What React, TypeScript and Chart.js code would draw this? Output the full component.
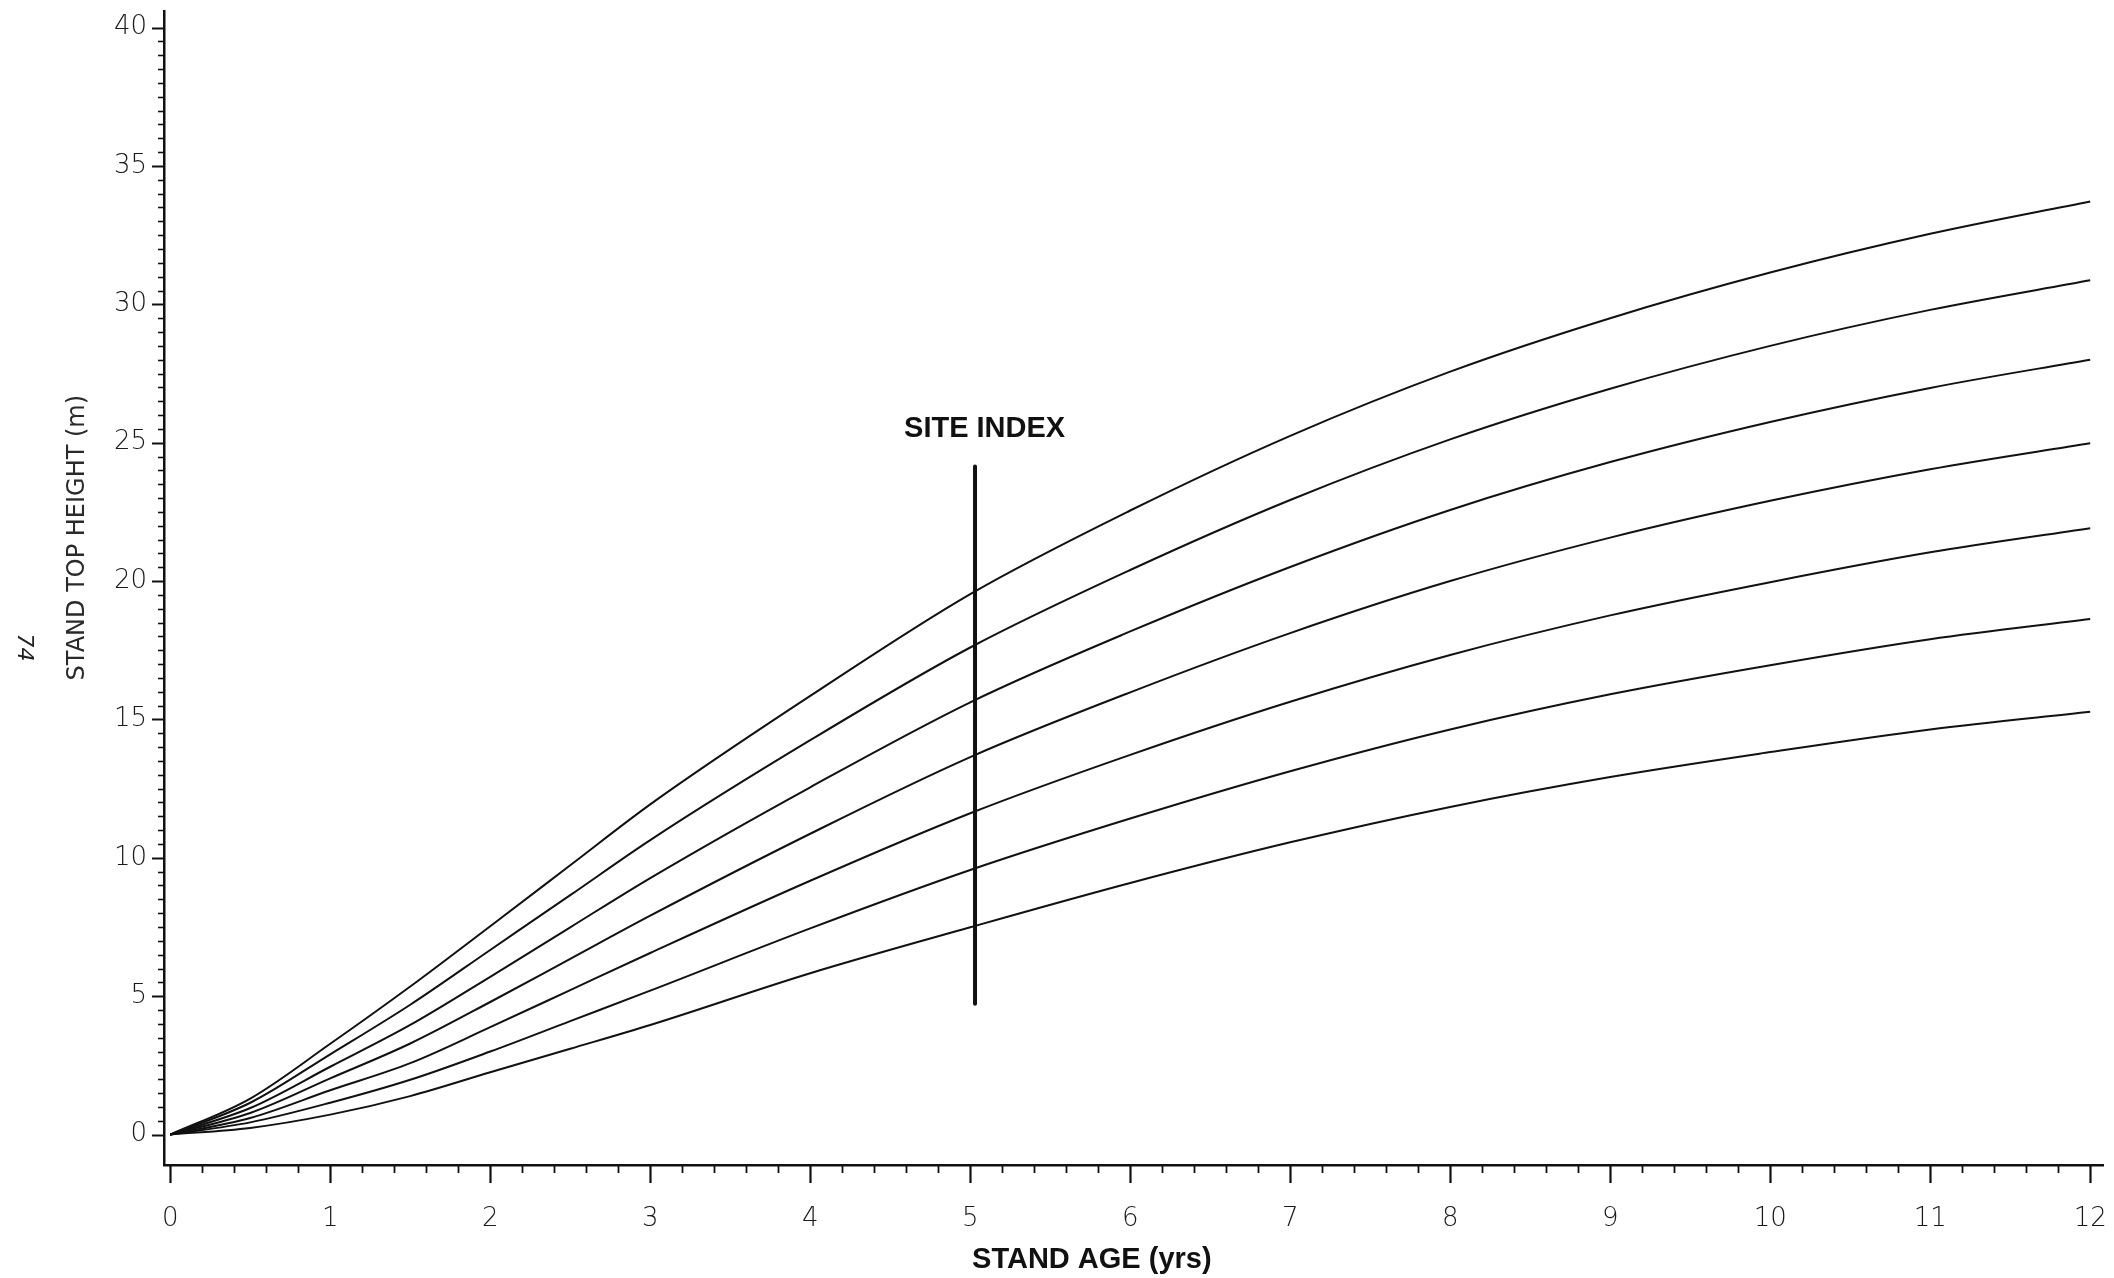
import React, { useEffect, useRef } from "react";
import { Chart, registerables } from "chart.js";

Chart.register(...registerables);

// ---- data ----
const AGES = [0, 0.5, 1, 1.5, 2, 2.5, 3, 4, 5, 6, 7, 8, 9, 10, 11, 12];
const CURVE_1 = [0, 1.3, 3.28, 5.35, 7.53, 9.73, 11.93, 15.85, 19.53, 22.55, 25.25, 27.57, 29.5, 31.15, 32.55, 33.72];
const CURVE_2 = [0, 1.15, 2.9, 4.69, 6.67, 8.65, 10.64, 14.25, 17.6, 20.4, 22.93, 25.12, 26.95, 28.5, 29.8, 30.87];
const CURVE_3 = [0, 0.96, 2.45, 3.96, 5.7, 7.49, 9.27, 12.55, 15.62, 18.18, 20.51, 22.57, 24.3, 25.75, 26.98, 28.0];
const CURVE_4 = [0, 0.78, 2.03, 3.29, 4.79, 6.35, 7.91, 10.87, 13.64, 15.98, 18.12, 20.0, 21.57, 22.9, 24.04, 24.98];
const CURVE_5 = [0, 0.6, 1.6, 2.58, 3.88, 5.22, 6.56, 9.17, 11.61, 13.72, 15.64, 17.33, 18.76, 19.96, 21.04, 21.91];
const CURVE_6 = [0, 0.44, 1.15, 1.98, 3.0, 4.1, 5.2, 7.45, 9.56, 11.42, 13.13, 14.64, 15.91, 16.96, 17.9, 18.63];
const CURVE_7 = [0, 0.24, 0.72, 1.39, 2.25, 3.1, 3.96, 5.83, 7.49, 9.09, 10.56, 11.84, 12.92, 13.82, 14.64, 15.28];
const CURVES = [CURVE_1, CURVE_2, CURVE_3, CURVE_4, CURVE_5, CURVE_6, CURVE_7];

const SITE_INDEX_AGE = [5.03, 5.03];
const SITE_INDEX_HEIGHT = [4.73, 24.14];
const SITE_INDEX_LABEL = "SITE INDEX";
const SITE_INDEX_LABEL_POS = { x: 5.09, y: 25.5 };

const X_TICK_LABELS = [0, 1, 2, 3, 4, 5, 6, 7, 8, 9, 10, 11, 12];
const Y_TICK_LABELS = [0, 5, 10, 15, 20, 25, 30, 35, 40];
const X_MINOR_STEP = 0.2;
const Y_MINOR_STEP = 0.5;
const X_TITLE = "STAND AGE (yrs)";
const Y_TITLE = "STAND TOP HEIGHT (m)";
const PAGE_NUMBER = "74";

const INK = "#111111";
const LABEL_INK = "#1a1a1a";
const THIN_FONT = "'DejaVu Sans', 'Noto Sans', sans-serif";
const BOLD_FONT = "'Liberation Sans', Arial, sans-serif";

const decorations = {
  id: "decorations",
  afterDraw(chart: any) {
    const { ctx, chartArea } = chart;
    const x = chart.scales.x;
    const y = chart.scales.y;
    ctx.save();
    ctx.strokeStyle = INK;
    ctx.lineCap = "butt";

    // y-axis tick marks (outside, to the left)
    const yMax = Y_TICK_LABELS[Y_TICK_LABELS.length - 1];
    const yCount = Math.round(yMax / Y_MINOR_STEP);
    for (let i = 0; i <= yCount; i++) {
      const v = i * Y_MINOR_STEP;
      const py = Math.round(y.getPixelForValue(v)) + 0.5;
      const major = Y_TICK_LABELS.includes(v);
      ctx.lineWidth = major ? 2 : 1.6;
      const len = major ? 12 : 6;
      ctx.beginPath();
      ctx.moveTo(chartArea.left - len, py);
      ctx.lineTo(chartArea.left, py);
      ctx.stroke();
    }

    // x-axis tick marks (outside, downward)
    const xMax = X_TICK_LABELS[X_TICK_LABELS.length - 1];
    const xCount = Math.round(xMax / X_MINOR_STEP);
    for (let i = 0; i <= xCount; i++) {
      const v = Math.round(i * X_MINOR_STEP * 1000) / 1000;
      const px = Math.round(x.getPixelForValue(v)) + 0.5;
      const major = X_TICK_LABELS.includes(v);
      ctx.lineWidth = major ? 2.2 : 1.8;
      const len = major ? 18 : 8;
      ctx.beginPath();
      ctx.moveTo(px, chartArea.bottom);
      ctx.lineTo(px, chartArea.bottom + len);
      ctx.stroke();
    }

    // SITE INDEX label
    ctx.fillStyle = INK;
    ctx.font = `bold 29px ${BOLD_FONT}`;
    ctx.textAlign = "center";
    ctx.textBaseline = "middle";
    ctx.fillText(
      SITE_INDEX_LABEL,
      x.getPixelForValue(SITE_INDEX_LABEL_POS.x),
      y.getPixelForValue(SITE_INDEX_LABEL_POS.y)
    );

    // x title
    ctx.font = `bold 29px ${BOLD_FONT}`;
    ctx.fillText(X_TITLE, x.getPixelForValue(5.76), chartArea.bottom + 95);

    // y title (rotated)
    ctx.save();
    ctx.translate(78, y.getPixelForValue(21.57));
    ctx.rotate(-Math.PI / 2);
    ctx.fillStyle = "#2a2a2a";
    ctx.font = `normal 24px ${THIN_FONT}`;
    ctx.fillText(Y_TITLE, 0, 0);
    ctx.restore();

    // page number written on the scan margin
    ctx.save();
    ctx.translate(24, y.getPixelForValue(17.6));
    ctx.rotate(Math.PI / 2);
    ctx.fillStyle = "#222";
    ctx.font = `italic 22px ${THIN_FONT}`;
    ctx.fillText(PAGE_NUMBER, 0, 0);
    ctx.restore();

    ctx.restore();
  },
};

export default function App() {
  const canvasRef = useRef<HTMLCanvasElement | null>(null);

  useEffect(() => {
    document.body.style.margin = "0";
    document.body.style.background = "#ffffff";
    const canvas = canvasRef.current;
    if (!canvas) return;

    const curveDatasets = CURVES.map((series, idx) => ({
      label: `Site ${idx + 1}`,
      data: AGES.map((a, i) => ({ x: a, y: series[i] })),
      borderColor: INK,
      borderWidth: 2,
      pointRadius: 0,
      fill: false,
      cubicInterpolationMode: "monotone" as const,
    }));

    const siteIndexDataset = {
      label: "Site index",
      data: SITE_INDEX_AGE.map((a, i) => ({ x: a, y: SITE_INDEX_HEIGHT[i] })),
      borderColor: INK,
      borderWidth: 4,
      pointRadius: 0,
      fill: false,
      borderCapStyle: "round" as const,
    };

    const tickFont = { family: THIN_FONT, size: 26, weight: "300" as any };

    const chart = new Chart(canvas, {
      type: "line",
      data: { datasets: [...curveDatasets, siteIndexDataset] },
      plugins: [decorations],
      options: {
        animation: false,
        responsive: false,
        devicePixelRatio: 1,
        layout: { padding: { top: 11, right: 11, left: 0, bottom: 0 } },
        plugins: {
          legend: { display: false },
          tooltip: { enabled: false },
          title: { display: false },
        },
        scales: {
          x: {
            type: "linear",
            min: -0.039,
            max: 12.08,
            grid: { display: false },
            border: { display: true, color: INK, width: 2.5 },
            ticks: {
              stepSize: 1,
              maxTicksLimit: 20,
              includeBounds: false,
              padding: 31,
              color: LABEL_INK,
              font: tickFont,
              maxRotation: 0,
              autoSkip: false,
              callback: (v: any) => (X_TICK_LABELS.includes(Number(v)) ? String(v) : ""),
            },
            afterFit: (scale: any) => {
              scale.height = 113;
              scale.paddingLeft = 0;
              scale.paddingRight = 0;
            },
          },
          y: {
            type: "linear",
            min: -1.1,
            max: 40.6,
            grid: { display: false },
            border: { display: true, color: INK, width: 2.5 },
            ticks: {
              stepSize: 5,
              includeBounds: false,
              padding: 9,
              color: LABEL_INK,
              font: tickFont,
              autoSkip: false,
              callback: (v: any) => (Y_TICK_LABELS.includes(Number(v)) ? String(v) : ""),
            },
            afterFit: (scale: any) => {
              scale.width = 164;
              scale.paddingTop = 0;
              scale.paddingBottom = 0;
            },
          },
        },
      },
    });

    return () => chart.destroy();
  }, []);

  return (
    <div style={{ width: 2114, height: 1278, background: "#fff" }}>
      <canvas ref={canvasRef} width={2114} height={1278} style={{ display: "block" }} />
    </div>
  );
}
